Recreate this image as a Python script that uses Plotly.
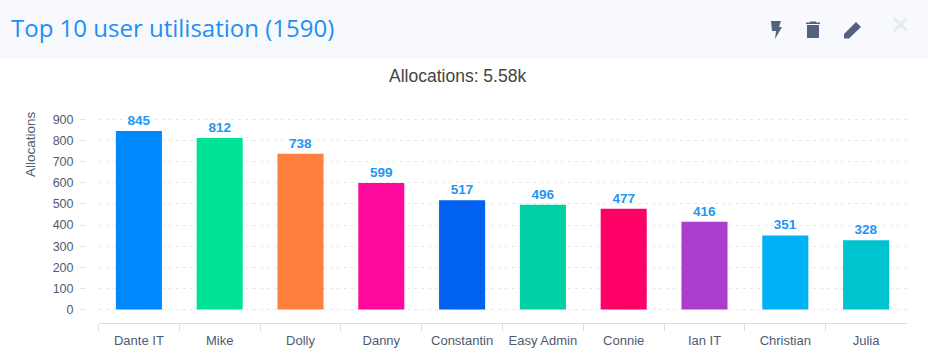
import plotly.graph_objects as go

W, H = 928, 364

categories = ["Dante IT", "Mike", "Dolly", "Danny", "Constantin", "Easy Admin", "Connie", "Ian IT", "Christian", "Julia"]
allocations = [845, 812, 738, 599, 517, 496, 477, 416, 351, 328]
bar_colors = ["#0088FE", "#00E396", "#FF7F3F", "#FF0A9C", "#0062EE", "#00D0A6", "#FF0066", "#AB3DCC", "#00B2F5", "#00C3D0"]
y_ticks = [0, 100, 200, 300, 400, 500, 600, 700, 800, 900]

header_title = "Top 10 user utilisation (1590)"
chart_title = "Allocations: 5.58k"
y_title = "Allocations"


def px(x):
    return x / W


def py(y):
    return 1 - y / H


def path(points, close=True):
    s = "M " + " L ".join(f"{px(x):.5f},{py(y):.5f}" for x, y in points)
    return s + (" Z" if close else "")


icon = "#54617F"
shapes = [
    dict(type="rect", xref="paper", yref="paper", x0=0, x1=1, y0=py(59), y1=1,
         fillcolor="#F7F9FC", line_width=0, layer="below"),
    # bolt
    dict(type="path", xref="paper", yref="paper", fillcolor=icon, line_width=0,
         path=path([(771, 21), (781, 21), (779, 27), (782, 27), (775, 39), (776, 31), (772, 31)])),
    # trash can
    dict(type="path", xref="paper", yref="paper", fillcolor=icon, line_width=0,
         path=path([(807, 25), (819, 25), (819, 38), (807, 38)])),
    dict(type="path", xref="paper", yref="paper", fillcolor=icon, line_width=0,
         path=path([(806, 22.5), (810, 22.5), (810, 21.5), (816, 21.5), (816, 22.5), (820, 22.5), (820, 24), (806, 24)])),
    # pencil
    dict(type="path", xref="paper", yref="paper", fillcolor=icon, line_width=0,
         path=path([(844, 34), (856, 22), (861, 27), (849, 38.5), (844, 38.5)])),
    # close cross
    dict(type="path", xref="paper", yref="paper", line=dict(color="#E4EBF2", width=3),
         path=path([(894, 18), (907, 31)], close=False)),
    dict(type="path", xref="paper", yref="paper", line=dict(color="#E4EBF2", width=3),
         path=path([(907, 18), (894, 31)], close=False)),
]

fig = go.Figure(go.Bar(
    x=categories,
    y=allocations,
    marker=dict(color=bar_colors, line_width=0),
    text=allocations,
    textposition="outside",
    textangle=0,
    cliponaxis=False,
    textfont=dict(family="Liberation Sans", size=13.5, color="#2196F3", weight="bold"),
    hoverinfo="x+y",
))

fig.update_layout(
    width=W,
    height=H,
    autosize=False,
    margin=dict(l=0, r=0, t=0, b=0, pad=0),
    paper_bgcolor="#FFFFFF",
    plot_bgcolor="#FFFFFF",
    showlegend=False,
    bargap=0.43,
    shapes=shapes,
    xaxis=dict(
        domain=[px(98.5), px(906.5)],
        type="category",
        showgrid=False,
        showline=True,
        linecolor="#DDDDDD",
        linewidth=1,
        ticks="outside",
        tickson="boundaries",
        ticklen=7,
        tickcolor="#DDDDDD",
        tickfont=dict(family="Liberation Sans", size=13, color="#4F5B70"),
        ticklabelstandoff=5,
        zeroline=False,
        fixedrange=True,
        automargin=False,
    ),
    yaxis=dict(
        domain=[py(323), py(110)],
        range=[-63.9, 945],
        anchor="free",
        position=px(86),
        tickvals=y_ticks,
        ticks="outside",
        ticklen=6,
        tickcolor="#E6E6E6",
        tickfont=dict(family="Liberation Sans", size=12.5, color="#4F5B70"),
        ticklabelstandoff=4,
        showgrid=True,
        gridcolor="#E8E8E8",
        griddash="3px,4px",
        gridwidth=1,
        zeroline=False,
        showline=False,
        fixedrange=True,
        automargin=False,
    ),
    annotations=[
        dict(text=header_title, xref="paper", yref="paper", x=px(9), y=py(28), xanchor="left", yanchor="middle",
             showarrow=False, font=dict(family="Open Sans", size=24, color="#1E8FF5")),
        dict(text=chart_title, xref="paper", yref="paper", x=px(457), y=py(75.5), xanchor="center", yanchor="middle",
             showarrow=False, font=dict(family="Liberation Sans", size=17.5, color="#444444")),
        dict(text=y_title, xref="paper", yref="paper", x=px(31), y=py(144), xanchor="center", yanchor="middle",
             textangle=-90, showarrow=False, font=dict(family="Liberation Sans", size=13.5, color="#4F5B70")),
    ],
)

fig.write_html("out.html", config=dict(displayModeBar=False),
               post_script="document.body.style.margin='0';")
